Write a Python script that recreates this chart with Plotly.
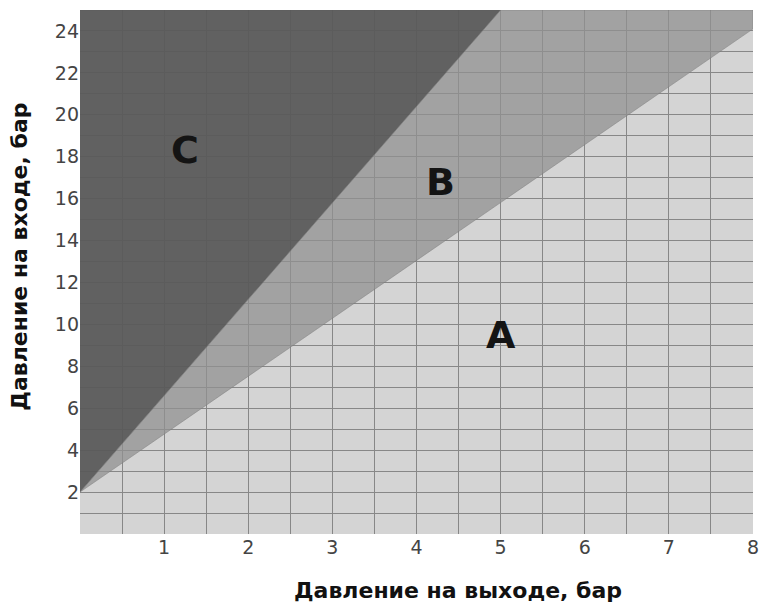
import plotly.graph_objects as go

# ---- data ----
x_range = [0, 8]
y_range = [0, 25]

# boundary between zone A and zone B (outlet pressure -> inlet pressure)
ab_x = [0, 8]
ab_y = [2, 24.1]
# boundary between zone B and zone C
bc_x = [0, 5]
bc_y = [2, 25]

zone_names = ["A", "B", "C"]
zone_label_x = [5.0, 4.28, 1.25]
zone_label_y = [9.5, 16.8, 18.3]

x_ticks = [1, 2, 3, 4, 5, 6, 7, 8]
y_ticks = [2, 4, 6, 8, 10, 12, 14, 16, 18, 20, 22, 24]

x_title = "Давление на выходе, бар"
y_title = "Давление на входе, бар"

# ---- styles ----
col_A = "rgb(212,212,212)"
col_B = "rgba(145,145,145,0.74)"
col_C = "rgba(88,88,88,0.93)"
grid_col = "rgb(135,135,135)"

fig = go.Figure()

# zone C: above B/C boundary up to the top-left corner
fig.add_trace(go.Scatter(
    x=bc_x + [x_range[0]], y=bc_y + [y_range[1]],
    fill="toself", fillcolor=col_C, mode="lines",
    line=dict(width=0.8, color="rgba(90,90,90,0.6)"),
    hoverinfo="skip", showlegend=False))

# zone B: between the two boundaries
fig.add_trace(go.Scatter(
    x=bc_x + [x_range[1]] + ab_x[::-1],
    y=bc_y + [y_range[1]] + ab_y[::-1],
    fill="toself", fillcolor=col_B, mode="lines",
    line=dict(width=0.8, color="rgba(120,120,120,0.6)"),
    hoverinfo="skip", showlegend=False))

for name, lx, ly in zip(zone_names, zone_label_x, zone_label_y):
    fig.add_annotation(x=lx, y=ly, text=f"<b>{name}</b>", showarrow=False,
                       font=dict(family="DejaVu Sans", size=38, color="#141414"))

axis_font = dict(family="DejaVu Sans", size=19, color="#444444")
title_font = dict(family="DejaVu Sans", size=22, color="#111111")

# axis titles (placed as annotations to match the reference offsets)
fig.add_annotation(xref="paper", yref="paper", x=0.562, y=-0.108,
                   xanchor="center", yanchor="middle", showarrow=False,
                   text=f"<b>{x_title}</b>", font=title_font)
fig.add_annotation(xref="paper", yref="paper", x=-0.09, y=0.53,
                   xanchor="center", yanchor="middle", showarrow=False, textangle=-90,
                   text=f"<b>{y_title}</b>", font=title_font)

fig.update_xaxes(
    range=x_range, tickvals=x_ticks, tickfont=axis_font,
    showgrid=True, gridcolor=grid_col, gridwidth=1,
    minor=dict(dtick=0.5, tick0=0, showgrid=True, gridcolor=grid_col, gridwidth=1),
    zeroline=False, showline=False, ticks="")
fig.update_yaxes(
    range=y_range, tickvals=y_ticks, tickfont=axis_font,
    showgrid=True, gridcolor=grid_col, gridwidth=1,
    minor=dict(dtick=1, tick0=0, showgrid=True, gridcolor=grid_col, gridwidth=1),
    zeroline=False, showline=False, ticks="")

fig.update_layout(
    width=763, height=608,
    margin=dict(l=80, r=10, t=10, b=74, autoexpand=False),
    plot_bgcolor=col_A, paper_bgcolor="white",
)

fig.write_html("out.html", config={"displayModeBar": False},
               post_script="document.body.style.margin='0';document.body.style.overflow='hidden';")
